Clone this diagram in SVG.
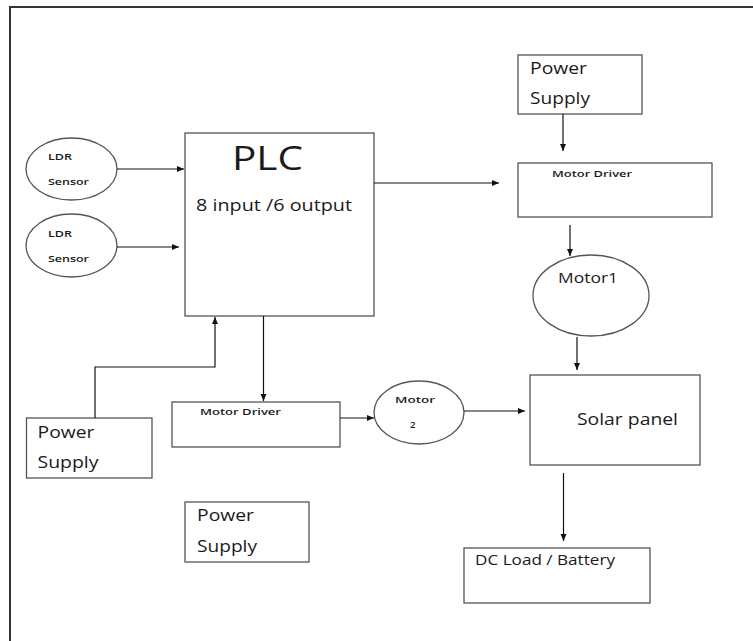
<svg xmlns="http://www.w3.org/2000/svg" width="753" height="641" viewBox="0 0 753 641">
<defs>
<marker id="ah" markerWidth="8" markerHeight="8" refX="7" refY="4" orient="auto" markerUnits="userSpaceOnUse">
<path d="M0,1 L7,4 L0,7 Z" fill="#111"/>
</marker>
<style>
.box{fill:#fff;stroke:#555;stroke-width:1.3}
.edge{fill:none;stroke:#111;stroke-width:1.2}
.t{font-family:"Open Sans","Liberation Sans",sans-serif;fill:#1a1a1a}
.s{font-size:9.5px;font-weight:600}
.m{font-size:15.5px}
</style>
</defs>
<rect width="753" height="641" fill="#fff"/>
<path d="M10,641 V7 H753" fill="none" stroke="#333" stroke-width="2"/>

<g id="ldr1">
<ellipse class="box" cx="71.5" cy="169" rx="45.5" ry="31"/>
<text class="t s" x="48" y="160" textLength="24" lengthAdjust="spacingAndGlyphs">LDR</text>
<text class="t s" x="48" y="185" textLength="41" lengthAdjust="spacingAndGlyphs">Sensor</text>
</g>
<g id="ldr2">
<ellipse class="box" cx="71.5" cy="245.5" rx="45.5" ry="31.5"/>
<text class="t s" x="48" y="237" textLength="24" lengthAdjust="spacingAndGlyphs">LDR</text>
<text class="t s" x="48" y="262" textLength="41" lengthAdjust="spacingAndGlyphs">Sensor</text>
</g>
<g id="plc">
<rect class="box" x="185" y="133" width="189" height="183"/>
<text class="t" x="232" y="170" font-size="32" textLength="71" lengthAdjust="spacingAndGlyphs">PLC</text>
<text class="t m" x="196" y="211" textLength="156" lengthAdjust="spacingAndGlyphs">8 input /6 output</text>
</g>
<g id="ps-top">
<rect class="box" x="518" y="55" width="124" height="59"/>
<text class="t m" x="530" y="74" textLength="57" lengthAdjust="spacingAndGlyphs">Power</text>
<text class="t m" x="530" y="104" textLength="60" lengthAdjust="spacingAndGlyphs">Supply</text>
</g>
<g id="md1">
<rect class="box" x="518" y="163" width="194" height="54"/>
<text class="t s" x="552" y="177" font-size="10" textLength="80" lengthAdjust="spacingAndGlyphs">Motor Driver</text>
</g>
<g id="motor1">
<ellipse class="box" cx="591" cy="295.5" rx="58" ry="40.5"/>
<text class="t" x="558" y="283" font-size="14" textLength="60" lengthAdjust="spacingAndGlyphs">Motor1</text>
</g>
<g id="ps-left">
<rect class="box" x="26.5" y="418" width="125.5" height="60"/>
<text class="t m" x="37.5" y="438" textLength="57" lengthAdjust="spacingAndGlyphs">Power</text>
<text class="t m" x="37.5" y="468" textLength="61" lengthAdjust="spacingAndGlyphs">Supply</text>
</g>
<g id="md2">
<rect class="box" x="172" y="402" width="168" height="45"/>
<text class="t s" x="200" y="415" font-size="10" textLength="81" lengthAdjust="spacingAndGlyphs">Motor Driver</text>
</g>
<g id="motor2">
<ellipse class="box" cx="419" cy="412.5" rx="45" ry="31.5"/>
<text class="t s" x="395" y="403" font-size="10" textLength="40" lengthAdjust="spacingAndGlyphs">Motor</text>
<text class="t s" x="410" y="428" font-size="10">2</text>
</g>
<g id="solar">
<rect class="box" x="530" y="375" width="170" height="90"/>
<text class="t" x="577" y="425" font-size="16" textLength="101" lengthAdjust="spacingAndGlyphs">Solar panel</text>
</g>
<g id="ps-bottom">
<rect class="box" x="185" y="502" width="124" height="60"/>
<text class="t m" x="197" y="521" textLength="57" lengthAdjust="spacingAndGlyphs">Power</text>
<text class="t m" x="197" y="552" textLength="60" lengthAdjust="spacingAndGlyphs">Supply</text>
</g>
<g id="dc">
<rect class="box" x="464" y="548" width="186" height="55"/>
<text class="t" x="475" y="565" font-size="14" textLength="140" lengthAdjust="spacingAndGlyphs">DC Load / Battery</text>
</g>

<g id="connectors">
<path class="edge" d="M117,169 H184" marker-end="url(#ah)"/>
<path class="edge" d="M117,247 H179" marker-end="url(#ah)"/>
<path class="edge" d="M374,183 H499" marker-end="url(#ah)"/>
<path class="edge" d="M563,114 V151" marker-end="url(#ah)"/>
<path class="edge" d="M570,225 V256" marker-end="url(#ah)"/>
<path class="edge" d="M577,337 V370" marker-end="url(#ah)"/>
<path class="edge" d="M95,418 V367 H215 V317" marker-end="url(#ah)"/>
<path class="edge" d="M263.5,316 V401" marker-end="url(#ah)"/>
<path class="edge" d="M340,418 H374" marker-end="url(#ah)"/>
<path class="edge" d="M464,411 H525" marker-end="url(#ah)"/>
<path class="edge" d="M563.5,473 V541" marker-end="url(#ah)"/>
</g>
</svg>
